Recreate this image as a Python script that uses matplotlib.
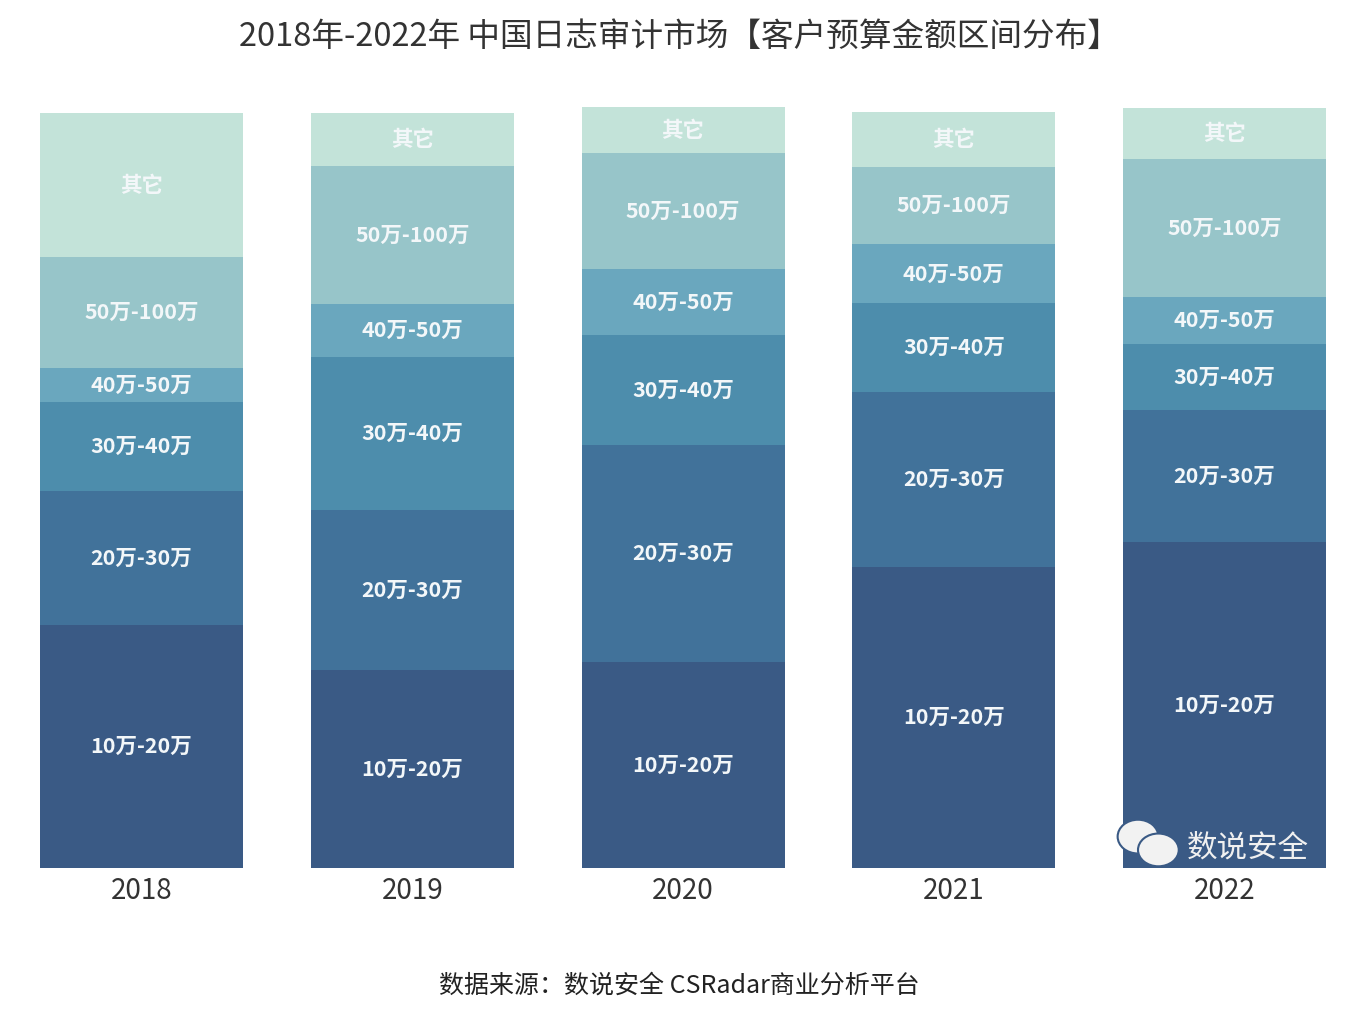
import numpy as np
import matplotlib
matplotlib.use("Agg")
from matplotlib import pyplot as plt
from matplotlib.patches import Ellipse

plt.rcParams['font.family'] = ['Noto Sans CJK SC', 'DejaVu Sans']

# data (share of customers, %)
years = ['2018', '2019', '2020', '2021', '2022']
segments = ['10万-20万', '20万-30万', '30万-40万', '40万-50万', '50万-100万', '其它']
v_10_20 = [32.2, 26.2, 27.3, 39.9, 43.2]
v_20_30 = [17.7, 21.2, 28.7, 23.2, 17.5]
v_30_40 = [11.8, 20.3, 14.6, 11.7, 8.7]
v_40_50 = [4.5, 7.0, 8.7, 7.8, 6.2]
v_50_100 = [14.7, 18.3, 15.4, 10.3, 18.3]
v_other = [19.1, 7.0, 6.1, 7.2, 6.8]

colors = ['#3a5a85', '#41729a', '#4d8dac', '#6aa7be', '#97c5c9', '#c3e3d9']

fig = plt.figure(figsize=(13.58, 10.24), dpi=100)
ax = fig.add_axes([0.0295, 0.1523, 0.947, 0.7446])

x = np.arange(len(years))
bottom = np.zeros(len(years))
series = [v_10_20, v_20_30, v_30_40, v_40_50, v_50_100, v_other]
for name, vals, c in zip(segments, series, colors):
    vals = np.array(vals)
    ax.bar(x, vals, 0.75, bottom=bottom, color=c, edgecolor='none')
    for xi, b, v in zip(x, bottom, vals):
        ax.text(xi, b + v / 2, name, ha='center', va='center',
                color='#f3f7f9', fontsize=15.5, fontweight='bold')
    bottom = bottom + vals

ax.set_xlim(-0.375, 4.375)
ax.set_ylim(0, 101)
ax.set_xticks(x)
ax.set_xticklabels(years, fontsize=20, color='#333333')
ax.tick_params(axis='x', length=0, pad=6)
ax.set_yticks([])
for s in ax.spines.values():
    s.set_visible(False)

fig.text(0.5, 0.964, '2018年-2022年 中国日志审计市场【客户预算金额区间分布】',
         ha='center', va='center', fontsize=23.5, color='#333333',
         fontweight='medium')
fig.text(0.5, 0.037, '数据来源：数说安全 CSRadar商业分析平台',
         ha='center', va='center', fontsize=18, color='#222222')

# wechat account mark
for cx, cy, w, h in [(0.838, 0.183, 0.030, 0.033), (0.853, 0.170, 0.030, 0.032)]:
    fig.patches.append(Ellipse((cx, cy), w, h, transform=fig.transFigure,
                               facecolor='#f2f2f2', edgecolor='#3a5a85', lw=1.5))
fig.text(0.919, 0.172, '数说安全', ha='center', va='center',
         fontsize=22, color='#f0f0f0')

fig.savefig('out.png', dpi=100, facecolor='white')
